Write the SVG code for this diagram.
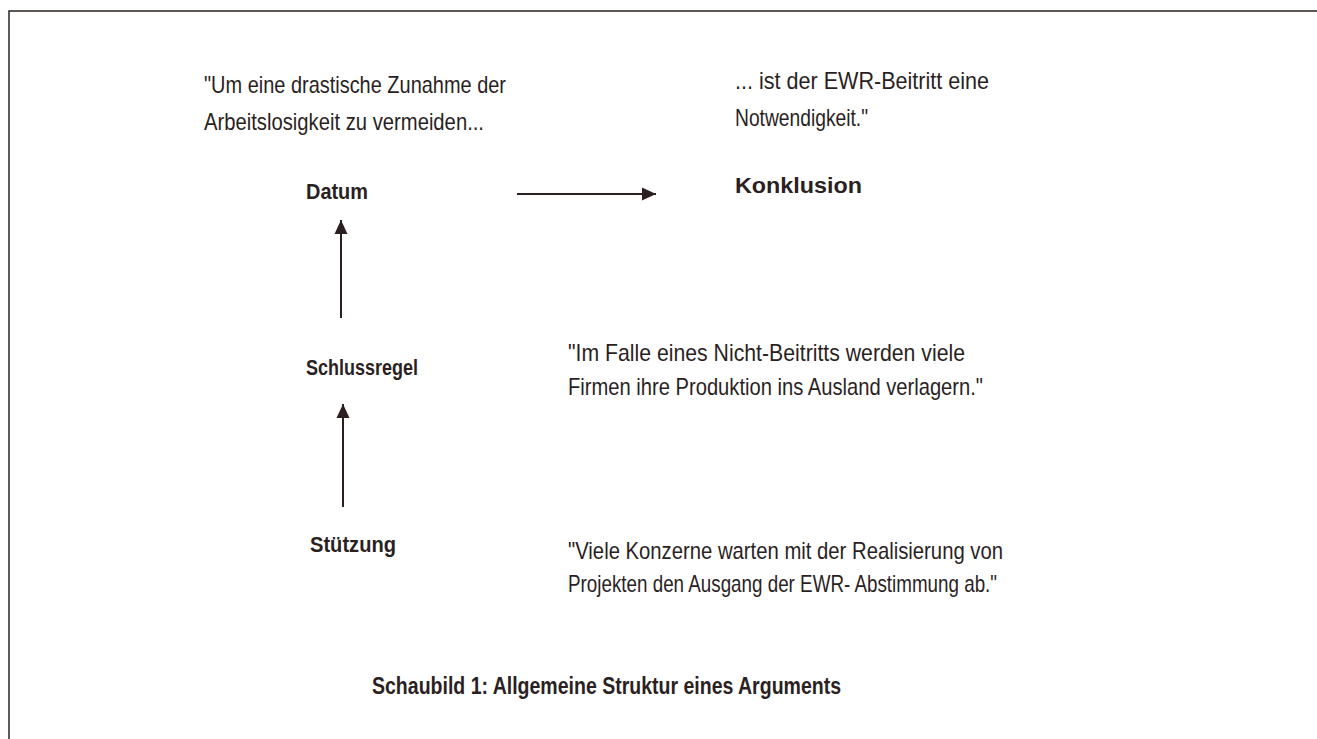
<svg xmlns="http://www.w3.org/2000/svg" width="1317" height="739" viewBox="0 0 1317 739">
  <style>
    .t { font-family: "Liberation Sans", Arial, sans-serif; font-size: 24px; fill: #2b1f1f; }
    .b { font-family: "Liberation Sans", Arial, sans-serif; font-size: 22px; font-weight: bold; fill: #2b1f1f; }
    .title { font-family: "Liberation Sans", Arial, sans-serif; font-size: 23px; font-weight: bold; fill: #2b1f1f; }
    .c { stroke: #2b1f1f; stroke-width: 2; fill: none; marker-end: url(#ah); }
  </style>
  <defs>
    <marker id="ah" viewBox="0 0 14 14" refX="14" refY="7" markerWidth="14" markerHeight="14" markerUnits="userSpaceOnUse" orient="auto">
      <path d="M0,0.5 L14,7 L0,13.5 z" fill="#2b1f1f"/>
    </marker>
  </defs>
  <rect width="1317" height="739" fill="#ffffff"/>
  <path d="M9,739 V11 H1317" stroke="#2b1f1f" stroke-width="1.5" fill="none"/>

  <g id="connectors">
    <line class="c" x1="517" y1="194" x2="656" y2="194"/>
    <line class="c" x1="341" y1="318" x2="341" y2="220"/>
    <line class="c" x1="343" y1="507" x2="343" y2="404"/>
  </g>

  <g id="datum">
    <text class="t" x="204" y="93" textLength="302" lengthAdjust="spacingAndGlyphs">"Um eine drastische Zunahme der</text>
    <text class="t" x="204" y="130" textLength="280" lengthAdjust="spacingAndGlyphs">Arbeitslosigkeit zu vermeiden...</text>
    <text class="b" x="306" y="199" textLength="62" lengthAdjust="spacingAndGlyphs">Datum</text>
  </g>

  <g id="konklusion">
    <text class="t" x="735" y="89" textLength="254" lengthAdjust="spacingAndGlyphs">... ist der EWR-Beitritt eine</text>
    <text class="t" x="735" y="126" textLength="133" lengthAdjust="spacingAndGlyphs">Notwendigkeit."</text>
    <text class="b" x="735" y="193" textLength="127" lengthAdjust="spacingAndGlyphs">Konklusion</text>
  </g>

  <g id="schlussregel">
    <text class="b" x="306" y="375" textLength="112" lengthAdjust="spacingAndGlyphs">Schlussregel</text>
    <text class="t" x="568" y="361" textLength="397" lengthAdjust="spacingAndGlyphs">"Im Falle eines Nicht-Beitritts werden viele</text>
    <text class="t" x="568" y="395" textLength="415" lengthAdjust="spacingAndGlyphs">Firmen ihre Produktion ins Ausland verlagern."</text>
  </g>

  <g id="stuetzung">
    <text class="b" x="310" y="552" textLength="86" lengthAdjust="spacingAndGlyphs">Stützung</text>
    <text class="t" x="568" y="559" textLength="435" lengthAdjust="spacingAndGlyphs">"Viele Konzerne warten mit der Realisierung von</text>
    <text class="t" x="568" y="592" textLength="429" lengthAdjust="spacingAndGlyphs">Projekten den Ausgang der EWR- Abstimmung ab."</text>
  </g>

  <g id="caption">
    <text class="title" x="372" y="694" textLength="469" lengthAdjust="spacingAndGlyphs">Schaubild 1: Allgemeine Struktur eines Arguments</text>
  </g>
</svg>
